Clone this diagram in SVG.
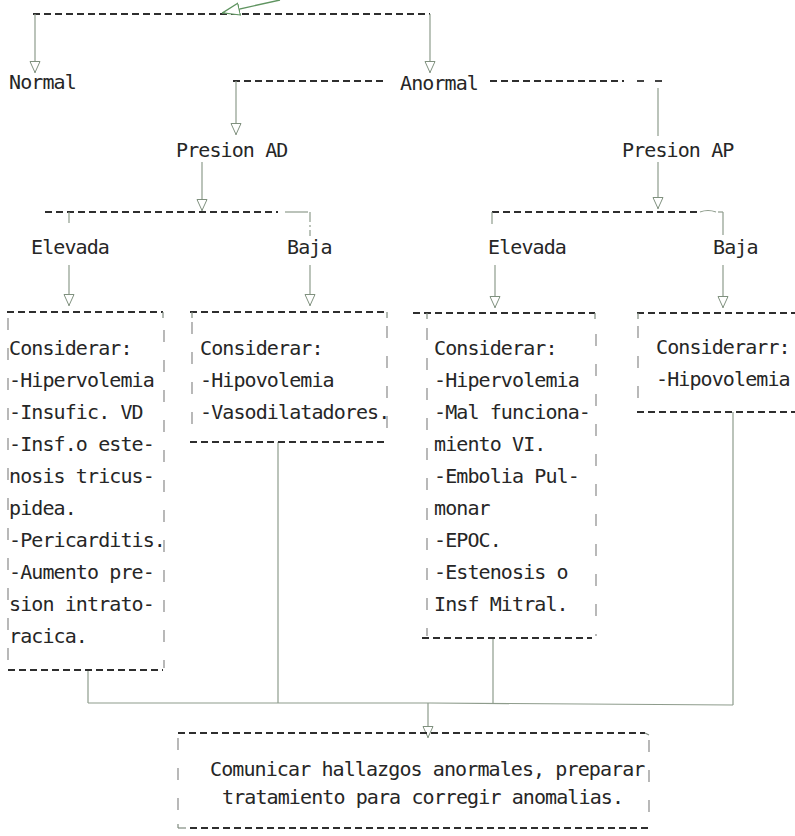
<svg xmlns="http://www.w3.org/2000/svg" width="795" height="836" viewBox="0 0 795 836">
  <style>
    text { font-family: "DejaVu Sans Mono", "Liberation Mono", monospace; font-size: 20px; letter-spacing: -0.9px; fill: #262626; }
    .dash { stroke: #2e2e2e; stroke-width: 1.8; stroke-dasharray: 7 4; fill: none; }
    .side { stroke: #8a8a8a; stroke-width: 1.2; stroke-dasharray: 12 18; fill: none; }
    .tick { stroke: #7f8a7f; stroke-width: 1.2; fill: none; }
    .conn { stroke: #8e9c8c; stroke-width: 1.2; fill: none; }
    .lead { stroke: #5f9460; stroke-width: 1.4; fill: none; }
  </style>
  <defs>
    <marker id="head" viewBox="0 0 12 12" refX="12" refY="6" markerWidth="12" markerHeight="12" markerUnits="userSpaceOnUse" orient="auto">
      <path d="M0.5,1 L11.5,6 L0.5,11 Z" fill="#ffffff" stroke="#7f907e" stroke-width="1"/>
    </marker>
    <marker id="headL" viewBox="0 0 18 14" refX="18" refY="7" markerWidth="18" markerHeight="14" markerUnits="userSpaceOnUse" orient="auto">
      <path d="M0.5,1 L17.5,7 L0.5,13 Z" fill="#ffffff" stroke="#5f9460" stroke-width="1.2"/>
    </marker>
  </defs>

  <rect width="795" height="836" fill="#ffffff"/>

  <!-- branch rules (printed dashes) -->
  <g id="rules">
    <line class="dash" x1="33" y1="14" x2="430" y2="14"/>
    <line class="dash" x1="233" y1="81" x2="385" y2="81"/>
    <line class="dash" x1="490" y1="81" x2="624" y2="81"/>
    <line class="dash" x1="637" y1="81" x2="645" y2="81"/>
    <line class="dash" x1="655" y1="81" x2="662" y2="81"/>
    <line class="dash" x1="45" y1="212" x2="278" y2="212"/>
    <line class="dash" x1="492" y1="212" x2="699" y2="212"/>
  </g>

  <!-- connectors -->
  <g id="connectors">
    <line class="lead" x1="280" y1="0" x2="222" y2="13" marker-end="url(#headL)"/>
    <line class="conn" x1="35" y1="14" x2="35" y2="73" marker-end="url(#head)"/>
    <line class="conn" x1="430" y1="14" x2="430" y2="73" marker-end="url(#head)"/>
    <line class="conn" x1="236" y1="81" x2="236" y2="135" marker-end="url(#head)"/>
    <line class="conn" x1="658" y1="88" x2="658" y2="136"/>
    <line class="conn" x1="202" y1="162" x2="202" y2="211" marker-end="url(#head)"/>
    <line class="conn" x1="658" y1="162" x2="658" y2="209" marker-end="url(#head)"/>
    <line class="conn" x1="285" y1="212" x2="308" y2="212"/>
    <line class="conn" x1="310" y1="212" x2="310" y2="236" stroke-dasharray="10 3 2 3"/>
    <line class="conn" x1="69" y1="212" x2="69" y2="223"/>
    <path class="conn" d="M700,212 q8,-3 16,0"/>
    <line class="conn" x1="723" y1="212" x2="723" y2="235"/>
    <line class="conn" x1="718" y1="212" x2="723" y2="212"/>
    <line class="conn" x1="492" y1="212" x2="492" y2="224"/>
    <line class="conn" x1="69" y1="265" x2="69" y2="306" marker-end="url(#head)"/>
    <line class="conn" x1="310" y1="265" x2="310" y2="306" marker-end="url(#head)"/>
    <line class="conn" x1="495" y1="265" x2="495" y2="308" marker-end="url(#head)"/>
    <line class="conn" x1="723" y1="265" x2="723" y2="308" marker-end="url(#head)"/>
    <line class="conn" x1="88" y1="670" x2="88" y2="703"/>
    <line class="conn" x1="278" y1="442" x2="278" y2="703"/>
    <line class="conn" x1="493" y1="638" x2="493" y2="704"/>
    <line class="conn" x1="733" y1="412" x2="733" y2="705"/>
    <path class="conn" d="M88,703 L430,703 L733,705"/>
    <line class="conn" x1="428" y1="703" x2="428" y2="738" marker-end="url(#head)"/>
  </g>

  <!-- labels -->
  <g id="normal"><text x="9" y="89">Normal</text></g>
  <g id="anormal"><text x="400" y="90">Anormal</text></g>
  <g id="presion-ad"><text x="176" y="157">Presion AD</text></g>
  <g id="presion-ap"><text x="622" y="157">Presion AP</text></g>
  <g id="ad-elevada"><text x="31" y="254">Elevada</text></g>
  <g id="ad-baja"><text x="287" y="254">Baja</text></g>
  <g id="ap-elevada"><text x="488" y="254">Elevada</text></g>
  <g id="ap-baja"><text x="713" y="254">Baja</text></g>

  <!-- AD elevada box -->
  <g id="box-ad-elevada">
    <line class="dash" x1="7" y1="312" x2="163" y2="312"/>
    <line class="tick" x1="163" y1="312" x2="163" y2="318"/>
    <line class="side" x1="8" y1="318" x2="8" y2="668"/>
    <line class="side" x1="164" y1="330" x2="164" y2="668"/>
    <line class="dash" x1="8" y1="670" x2="163" y2="670"/>
    <text x="9" y="355">Considerar:</text>
    <text x="9" y="387">-Hipervolemia</text>
    <text x="9" y="419">-Insufic. VD</text>
    <text x="9" y="451">-Insf.o este-</text>
    <text x="9" y="483">nosis tricus-</text>
    <text x="9" y="515">pidea.</text>
    <text x="9" y="547">-Pericarditis.</text>
    <text x="9" y="579">-Aumento pre-</text>
    <text x="9" y="611">sion intrato-</text>
    <text x="9" y="643">racica.</text>
  </g>

  <!-- AD baja box -->
  <g id="box-ad-baja">
    <line class="dash" x1="190" y1="312" x2="387" y2="312"/>
    <line class="tick" x1="192" y1="312" x2="192" y2="318"/>
    <line class="tick" x1="387" y1="312" x2="387" y2="318"/>
    <line class="side" x1="192" y1="322" x2="192" y2="440"/>
    <line class="side" x1="387" y1="326" x2="387" y2="440"/>
    <line class="dash" x1="190" y1="442" x2="387" y2="442"/>
    <text x="200" y="355">Considerar:</text>
    <text x="200" y="387">-Hipovolemia</text>
    <text x="200" y="419">-Vasodilatadores.</text>
  </g>

  <!-- AP elevada box -->
  <g id="box-ap-elevada">
    <line class="dash" x1="413" y1="313" x2="595" y2="313"/>
    <line class="tick" x1="427" y1="313" x2="427" y2="319"/>
    <line class="tick" x1="595" y1="313" x2="595" y2="319"/>
    <line class="side" x1="427" y1="328" x2="427" y2="636"/>
    <line class="side" x1="596" y1="334" x2="596" y2="636"/>
    <line class="dash" x1="422" y1="638" x2="592" y2="638"/>
    <text x="434" y="355">Considerar:</text>
    <text x="434" y="387">-Hipervolemia</text>
    <text x="434" y="419">-Mal funciona-</text>
    <text x="434" y="451">miento VI.</text>
    <text x="434" y="483">-Embolia Pul-</text>
    <text x="434" y="515">monar</text>
    <text x="434" y="547">-EPOC.</text>
    <text x="434" y="579">-Estenosis o</text>
    <text x="434" y="611">Insf Mitral.</text>
  </g>

  <!-- AP baja box -->
  <g id="box-ap-baja">
    <line class="dash" x1="637" y1="313" x2="795" y2="313"/>
    <line class="tick" x1="638" y1="313" x2="638" y2="319"/>
    <line class="side" x1="638" y1="326" x2="638" y2="410"/>
    <line class="dash" x1="637" y1="412" x2="795" y2="412"/>
    <text x="656" y="354">Considerarr:</text>
    <text x="656" y="386">-Hipovolemia</text>
  </g>

  <!-- final action box -->
  <g id="box-final">
    <line class="dash" x1="178" y1="733" x2="645" y2="733"/>
    <line class="tick" x1="645" y1="733" x2="649" y2="735"/>
    <line class="side" x1="178" y1="738" x2="178" y2="824"/>
    <line class="side" x1="649" y1="740" x2="649" y2="824"/>
    <line class="tick" x1="178" y1="824" x2="178" y2="828"/>
    <line class="tick" x1="178" y1="828" x2="186" y2="828"/>
    <line class="dash" x1="190" y1="828" x2="650" y2="828"/>
    <text x="210" y="776">Comunicar hallazgos anormales, preparar</text>
    <text x="222" y="804">tratamiento para corregir anomalias.</text>
  </g>
</svg>
